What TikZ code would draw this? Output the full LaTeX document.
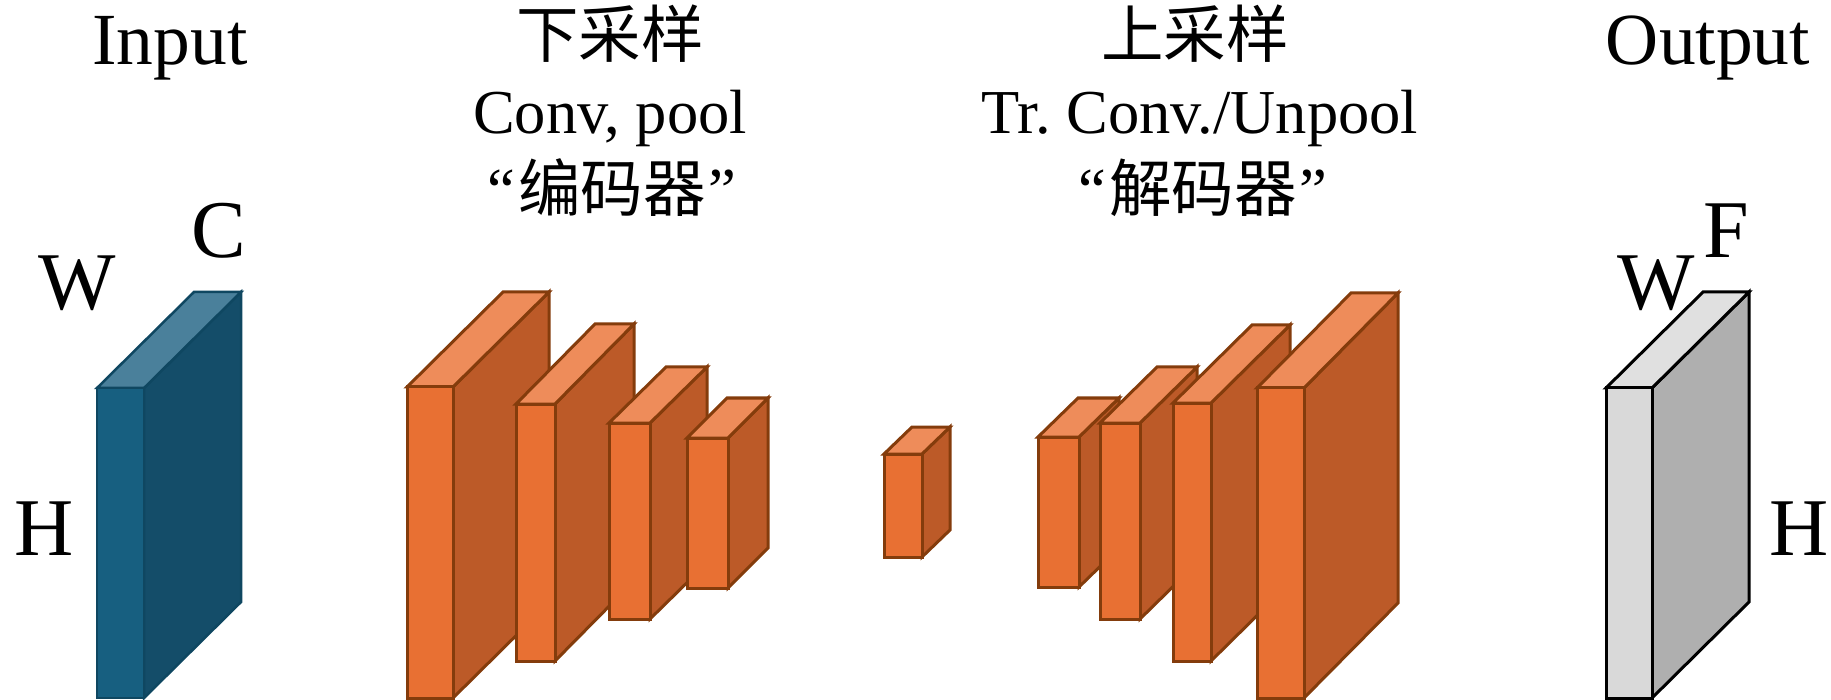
\documentclass[tikz,border=0pt]{standalone}
\usepackage{fontspec}
\setmainfont{Liberation Serif}
\newfontfamily\cjk{Noto Sans CJK SC}
\definecolor{orF}{HTML}{E87033}
\definecolor{orS}{HTML}{BC5A28}
\definecolor{orT}{HTML}{EE8C5A}
\definecolor{orL}{HTML}{843C0C}
\definecolor{blF}{HTML}{175F80}
\definecolor{blS}{HTML}{144D69}
\definecolor{blT}{HTML}{4A809B}
\definecolor{blL}{HTML}{0F4761}
\definecolor{grF}{HTML}{D9D9D9}
\definecolor{grS}{HTML}{AFAFAF}
\definecolor{grT}{HTML}{E0E0E0}
\tikzset{
  orfront/.style={fill=orF,draw=orL,line width=3pt},
  orside/.style={fill=orS,draw=orL,line width=3pt},
  ortop/.style={fill=orT,draw=orL,line width=3pt},
  blfront/.style={fill=blF,draw=blL,line width=2.5pt},
  blside/.style={fill=blS,draw=blL,line width=2.5pt},
  bltop/.style={fill=blT,draw=blL,line width=2.5pt},
  grfront/.style={fill=grF,draw=black,line width=3pt},
  grside/.style={fill=grS,draw=black,line width=3pt},
  grtop/.style={fill=grT,draw=black,line width=3pt},
  dimlabel/.style={anchor=base,inner sep=0pt,font=\fontsize{82pt}{82pt}\selectfont},
  iolabel/.style={anchor=base,inner sep=0pt,font=\fontsize{73.5pt}{74pt}\selectfont},
  title/.style={anchor=base,inner sep=0pt,font=\fontsize{62.5pt}{63pt}\selectfont\frenchspacing},
}
% #1 style prefix, (#2,#3) front top-left, (#4,#5) front bottom-right, #6 dx, #7 dy (image px)
\newcommand{\blockbox}[7]{%
  \draw[#1side] (#4,#3) -- ++(#6,-#7) -- ++(0,{#5-#3}) -- ++(-#6,#7) -- cycle;
  \draw[#1top] (#2,#3) -- ++(#6,-#7) -- ++({#4-#2},0) -- (#4,#3) -- cycle;
  \draw[#1front] (#2,#3) rectangle (#4,#5);
}
\begin{document}
\begin{tikzpicture}[x=1pt,y=-1pt]
\useasboundingbox (0,0) rectangle (1831,700);
% input
\blockbox{bl}{97}{388}{144}{698}{97}{96}
% encoder
\blockbox{or}{407}{387}{453}{698}{96}{95}
\blockbox{or}{516}{404}{555}{661}{79}{80}
\blockbox{or}{609}{423}{650}{619}{57}{56}
\blockbox{or}{687}{438}{728}{588}{40}{40}
% bottleneck
\blockbox{or}{884}{454}{922}{557}{28}{27}
% decoder
\blockbox{or}{1038}{437}{1079}{587}{40}{39}
\blockbox{or}{1100}{423}{1140}{619}{57}{56}
\blockbox{or}{1173}{403}{1211}{661}{79}{78}
\blockbox{or}{1257}{388}{1304}{698}{94}{95}
% output
\blockbox{gr}{1606}{388}{1652}{698}{97}{96}
% labels
\node[iolabel] (inp) at (170,65) {Input};
\node[iolabel] (outp) at (1708,65) {Output};
\node[dimlabel] (w1) at (77,310) {W};
\node[dimlabel] (c1) at (219,258) {C};
\node[dimlabel] (h1) at (44,555) {H};
\node[dimlabel] (w2) at (1656,310) {W};
\node[dimlabel] (f2) at (1726,258) {F};
\node[dimlabel] (h2) at (1799,555) {H};
% titles
\node[title] (e1) at (610,58) {{\cjk 下采样}};
\node[title] (e2) at (610,134) {Conv, pool};
\node[title] (e3) at (612,212) {“\kern3pt{\cjk 编码器}\kern3pt”};
\node[title] (d1) at (1195,58) {{\cjk 上采样}};
\node[title] (d2) at (1200,134) {Tr. Conv./Unpool};
\node[title] (d3) at (1203,212) {“\kern3pt{\cjk 解码器}\kern3pt”};
\end{tikzpicture}
\end{document}
